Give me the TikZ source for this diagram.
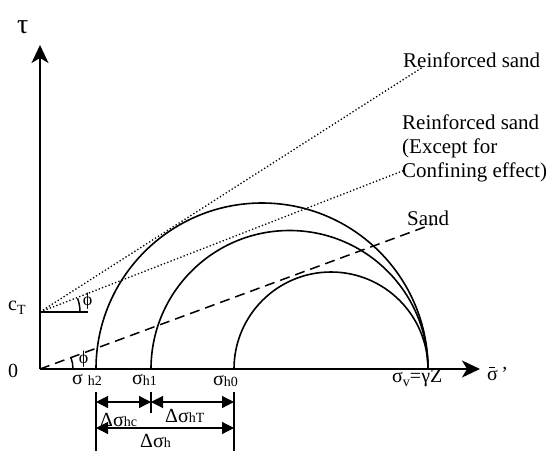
\documentclass[tikz,border=0pt]{standalone}
\usepackage{fontspec}
\setmainfont{Liberation Serif}
\usetikzlibrary{arrows.meta}
\newcommand{\lowsub}[2][3pt]{\raisebox{-#1}{\fontsize{14}{14}\selectfont #2}}
\begin{document}
\begin{tikzpicture}[x=1pt,y=-1pt,
  axis/.style={line width=1.6pt,-{Stealth[length=18pt,width=17pt,inset=5pt]}},
  mohr/.style={line width=1.6pt},
  dimline/.style={line width=1.2pt,{Triangle[length=12pt,width=12pt]}-{Triangle[length=12pt,width=12pt]}},
  tickline/.style={line width=1.2pt},
  dotline/.style={line width=1.3pt,dash pattern=on 1.3pt off 2.2pt},
  dashline/.style={line width=1.5pt,dash pattern=on 10pt off 6pt},
  lbl/.style={font=\fontsize{20}{24}\selectfont,inner sep=0pt},
  biglbl/.style={font=\fontsize{21}{24}\selectfont,inner sep=0pt},
  philbl/.style={font=\fontsize{18}{18}\selectfont,inner sep=0pt}]
\useasboundingbox (0,0) rectangle (547,451);
% key points
\coordinate (O) at (40,369);
\coordinate (Ytip) at (40,45);
\coordinate (Xtip) at (480,369);
\coordinate (cT) at (40,312);
\coordinate (cTend) at (88,312);
\coordinate (h2) at (96,369);
\coordinate (h1) at (151,369);
\coordinate (h0) at (234,369);
\coordinate (sv) at (428,369);
\coordinate (rsEnd) at (423,67);
\coordinate (cfEnd) at (405,170);
\coordinate (sdEnd) at (433,224);
% envelopes
\draw[dotline] (cT) -- (rsEnd);
\draw[dotline] (cT) -- (cfEnd);
\draw[dashline] (O) -- (sdEnd);
\draw[line width=1.5pt] (cT) -- (cTend);
% Mohr circles
\draw[mohr] (h2) arc[start angle=180,end angle=0,radius=166pt];
\draw[mohr] (h1) arc[start angle=180,end angle=0,radius=138.5pt];
\draw[mohr] (h0) arc[start angle=180,end angle=0,radius=97pt];
% axes
\draw[axis] (O) -- (Ytip);
\draw[axis] (O) -- (Xtip);
% angle marks
\draw[line width=1.5pt] (80,312) arc[start angle=0,end angle=20,radius=40pt];
\draw[line width=1.5pt] (73,369) arc[start angle=0,end angle=20,radius=33pt];
\node[philbl] (phiT) at (87.5,301.5) {ϕ};
\node[philbl] (phiB) at (83.5,359.5) {ϕ};
% axis labels
\node[lbl,font=\fontsize{28}{28}\selectfont,anchor=base west] (tau) at (17,33) {τ};
\node[lbl,anchor=base west] (sig) at (487,380) {σ\llap{\raisebox{12pt}{\rule{5.5pt}{0.9pt}}\hspace{3pt}}\,'};
\node[lbl,anchor=base west] (zero) at (8,377) {0};
\node[lbl,anchor=base west] (cTl) at (8,310) {c\lowsub[4pt]{T}};
% stress labels
\node[lbl,anchor=base west] (lh2) at (72,384) {σ \lowsub[1pt]{h2}};
\node[lbl,anchor=base west] (lh1) at (132,384) {σ\lowsub[1pt]{h1}};
\node[lbl,anchor=base west] (lh0) at (213,385) {σ\lowsub[1pt]{h0}};
\node[lbl,anchor=base west] (lsv) at (392,382) {σ\lowsub[4pt]{v}=γZ};
% line labels
\node[biglbl,anchor=base west] (rs) at (403,67) {Reinforced sand};
\node[biglbl,anchor=north west,align=left] (cf) at (402,115) {Reinforced sand\\(Except for\\Confining effect)};
\node[biglbl,anchor=base west] (sd) at (407,225) {Sand};
% dimension lines
\coordinate (t2a) at (96,392);
\coordinate (t2b) at (96,451);
\coordinate (t1a) at (151,392);
\coordinate (t1b) at (151,413);
\coordinate (t0a) at (234,392);
\coordinate (t0b) at (234,451);
\draw[tickline] (t2a) -- (t2b);
\draw[tickline] (t1a) -- (t1b);
\draw[tickline] (t0a) -- (t0b);
\coordinate (r1a) at (96,402);
\coordinate (r1b) at (151,402);
\coordinate (r1c) at (234,402);
\coordinate (r2a) at (96,428);
\coordinate (r2b) at (234,428);
\draw[dimline] (r1a) -- (r1b);
\draw[dimline] (r1b) -- (r1c);
\draw[dimline] (r2a) -- (r2b);
\node[lbl,anchor=base west] (dhc) at (100,426) {Δσ\lowsub[0pt]{hc}};
\node[lbl,anchor=base west] (dhT) at (165,422) {Δσ\lowsub[0pt]{hT}};
\node[lbl,anchor=base west] (dh) at (140,447) {Δσ\lowsub[0pt]{h}};
\end{tikzpicture}
\end{document}
